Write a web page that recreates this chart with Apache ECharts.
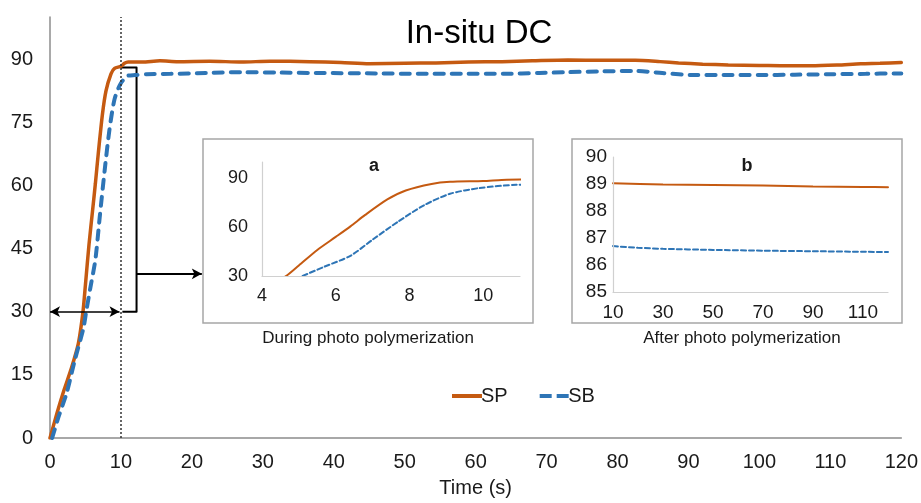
<!DOCTYPE html>
<html>
<head>
<meta charset="utf-8">
<script src="https://cdn.jsdelivr.net/npm/echarts@6/dist/echarts.min.js"></script>
<style>
  html, body { margin: 0; padding: 0; background: #fff; }
  #chart { width: 921px; height: 503px; }
</style>
</head>
<body>
<div id="chart"></div>
<script>
// main curves: [time (s), DC (%)]
const spCurve = [
  [0, 0], [1, 6], [2, 11.5], [3, 16.5], [4, 22.5], [4.65, 30], [5, 36.5], [5.5, 46],
  [6, 54], [6.4, 60.5], [6.8, 67.5], [7.4, 77], [7.9, 82.5], [8.6, 86.5], [9.1, 87.8],
  [10, 88.3], [10.5, 89], [11, 89.3], [13, 89.3], [15.5, 89.6], [18, 89.4], [22.5, 89.5],
  [27, 89.3], [31, 89.5], [36.6, 89.4], [41, 89.2], [45, 88.9], [50, 89.0], [54.4, 89.1],
  [59, 89.3], [63.7, 89.4], [68, 89.6], [73, 89.8], [78, 89.7], [82.5, 89.7], [86, 89.4],
  [88.6, 89.1], [92, 88.8], [95.6, 88.6], [100, 88.5], [104, 88.4], [107.3, 88.4],
  [111, 88.6], [114.3, 88.9], [117, 89.0], [120, 89.2]
];
const sbCurve = [
  [0.3, 0], [1.2, 5], [2.35, 10.7], [3.5, 18.5], [4.7, 26], [5.1, 30], [5.7, 35.8],
  [6.4, 42.4], [7, 52.3], [7.7, 63.5], [8.4, 73.5], [9.1, 80.5], [9.9, 84], [10.9, 86],
  [12, 86.2], [13.6, 86.4], [17, 86.5], [22, 86.7], [27, 86.9], [32, 86.8], [38, 86.7],
  [46, 86.6], [52, 86.5], [58, 86.5], [64, 86.5], [69, 86.7], [73, 86.9], [78, 87.1],
  [82.5, 87.2], [86.3, 86.7], [91, 86.2], [95, 86.2], [100, 86.2], [105, 86.3],
  [109.7, 86.4], [115, 86.5], [119, 86.6], [120, 86.6]
];
// inset b, after photo polymerization
const spAfter = [[10, 89.03], [30, 88.98], [50, 88.96], [70, 88.94], [90, 88.91], [110, 88.89], [120, 88.88]];
const sbAfter = [[10, 86.70], [20, 86.64], [30, 86.60], [50, 86.56], [70, 86.53], [90, 86.51], [110, 86.49], [120, 86.48]];
// annotation marks (data coords)
const bracket = [[10, 88], [12.2, 88], [12.2, 30], [10.2, 30]];

const FONT = 'Liberation Sans';
const ORANGE = '#C55A11';
const BLUE = '#2E75B6';
const TXT = '#1a1a1a';

const chart = echarts.init(document.getElementById('chart'));

function lineSeries(name, data, xi, color, width, dashed) {
  return {
    name: name, type: 'line', data: data,
    xAxisIndex: xi, yAxisIndex: xi,
    showSymbol: false, symbol: 'none', smooth: 0.25,
    lineStyle: {
      color: color, width: width,
      type: dashed ? (xi === 0 ? [9, 8] : [5, 3]) : 'solid',
      cap: 'round'
    },
    itemStyle: { color: color },
    z: 3
  };
}

const labA = { fontFamily: FONT, fontSize: 18, color: TXT };
const labB = { fontFamily: FONT, fontSize: 19, color: TXT };

const option = {
  animation: false,
  textStyle: { fontFamily: FONT },
  title: [
    { text: 'In-situ DC', left: 474, top: 12, textAlign: 'center',
      textStyle: { fontFamily: FONT, fontSize: 33, fontWeight: 'normal', color: '#000' } },
    { text: 'a', left: 369, top: 152, textAlign: 'center',
      textStyle: { fontFamily: FONT, fontSize: 18, fontWeight: 'bold', color: TXT } },
    { text: 'b', left: 742, top: 152, textAlign: 'center',
      textStyle: { fontFamily: FONT, fontSize: 18, fontWeight: 'bold', color: TXT } }
  ],
  legend: {
    data: [
      { name: 'SP', icon: 'path://M0,0H30V4H0Z' },
      { name: 'SB', icon: 'path://M0,0H12V4H0Z M17,0H29V4H17Z' }
    ],
    left: 447, top: 381,
    itemWidth: 30, itemHeight: 4, itemGap: 32,
    textStyle: { fontFamily: FONT, fontSize: 20, color: TXT, padding: [0, 0, 0, -6] }
  },
  graphic: [
    { type: 'rect', shape: { x: 203, y: 139, width: 330, height: 184 },
      style: { fill: '#fff', stroke: '#a6a6a6', lineWidth: 1.5 }, z: -10 },
    { type: 'rect', shape: { x: 572, y: 139, width: 330, height: 184 },
      style: { fill: '#fff', stroke: '#a6a6a6', lineWidth: 1.5 }, z: -10 },
    { type: 'text', x: 368, y: 338,
      style: { text: 'During photo polymerization', fontFamily: FONT, fontSize: 17, fill: TXT,
               align: 'center', verticalAlign: 'middle' } },
    { type: 'text', x: 742, y: 338,
      style: { text: 'After photo polymerization', fontFamily: FONT, fontSize: 17, fill: TXT,
               align: 'center', verticalAlign: 'middle' } }
  ],
  grid: [
    { left: 50, right: 19, top: 17, bottom: 61 },
    { left: 262, top: 162, width: 258, height: 114 },
    { left: 613, top: 157, width: 275, height: 135 }
  ],
  xAxis: [
    { type: 'value', gridIndex: 0, min: 0, max: 120, interval: 10,
      name: 'Time (s)', nameLocation: 'middle', nameGap: 40,
      nameTextStyle: { fontFamily: FONT, fontSize: 20, color: TXT },
      axisLine: { lineStyle: { color: '#8c8c8c', width: 1.5 } },
      axisTick: { show: false }, splitLine: { show: false },
      axisLabel: { fontFamily: FONT, fontSize: 20, color: TXT, margin: 14 } },
    { type: 'value', gridIndex: 1, min: 4, max: 11, interval: 2, z: 5,
      axisLine: { lineStyle: { color: '#d0d0d0', width: 1.2 } },
      axisTick: { show: false }, splitLine: { show: false },
      axisLabel: Object.assign({ margin: 11, showMaxLabel: false }, labA) },
    { type: 'value', gridIndex: 2, min: 10, max: 120, interval: 20, z: 5,
      axisLine: { lineStyle: { color: '#d0d0d0', width: 1.2 } },
      axisTick: { show: false }, splitLine: { show: false },
      axisLabel: Object.assign({ margin: 11, showMaxLabel: false }, labB) }
  ],
  yAxis: [
    { type: 'value', gridIndex: 0, min: 0, max: 100, interval: 15,
      axisLine: { show: true, lineStyle: { color: '#8c8c8c', width: 1.5 } },
      axisTick: { show: false }, splitLine: { show: false },
      axisLabel: { fontFamily: FONT, fontSize: 20, color: TXT, margin: 17, showMaxLabel: false } },
    { type: 'value', gridIndex: 1, min: 30, max: 100, interval: 30, z: 5,
      axisLine: { show: true, lineStyle: { color: '#d0d0d0', width: 1.2 } },
      axisTick: { show: false }, splitLine: { show: false },
      axisLabel: Object.assign({ margin: 14, showMaxLabel: false }, labA) },
    { type: 'value', gridIndex: 2, min: 85, max: 90, interval: 1, z: 5,
      axisLine: { show: true, lineStyle: { color: '#d0d0d0', width: 1.2 } },
      axisTick: { show: false }, splitLine: { show: false },
      axisLabel: Object.assign({ margin: 6 }, labB) }
  ],
  series: [
    Object.assign(lineSeries('SP', spCurve, 0, ORANGE, 3.5, false), {
      markLine: {
        silent: true, animation: false,
        label: { show: false },
        data: [
          [{ coord: [10, 0], symbol: 'none' }, { coord: [10, 100], symbol: 'none',
            lineStyle: { type: [2, 2], color: '#333', width: 1.5 } }],
          [{ coord: [0, 30], symbol: 'arrow' }, { coord: [9.8, 30], symbol: 'arrow',
            lineStyle: { type: 'solid', color: '#000', width: 1.5 } }],
          [{ coord: [12.2, 39], symbol: 'none' }, { coord: [21.4, 39], symbol: 'arrow',
            lineStyle: { type: 'solid', color: '#000', width: 2 } }]
        ],
        symbolSize: [8, 10],
        lineStyle: { color: '#000', width: 1.5, type: 'solid' }
      }
    }),
    lineSeries('SB', sbCurve, 0, BLUE, 4, true),
    {
      name: 'bracket', type: 'line', data: bracket, xAxisIndex: 0, yAxisIndex: 0,
      showSymbol: false, symbol: 'none',
      lineStyle: { color: '#000', width: 2, join: 'round' }, z: 2
    },
    lineSeries('SP', spCurve, 1, ORANGE, 2, false),
    lineSeries('SB', sbCurve, 1, BLUE, 2, true),
    lineSeries('SP', spAfter, 2, ORANGE, 2, false),
    lineSeries('SB', sbAfter, 2, BLUE, 2, true)
  ]
};

chart.setOption(option);
window.addEventListener('resize', chart.resize);
</script>
</body>
</html>
